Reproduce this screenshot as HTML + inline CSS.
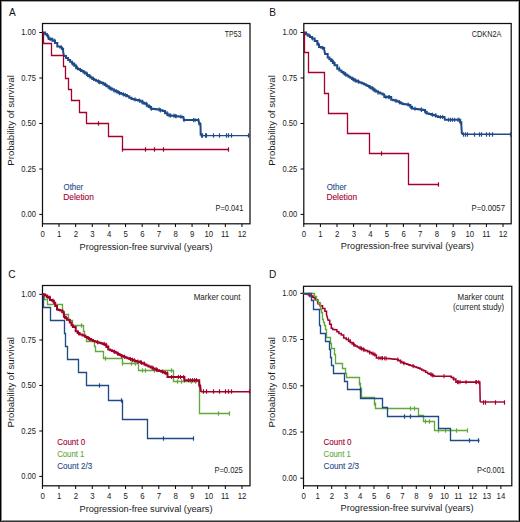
<!DOCTYPE html><html><head><meta charset="utf-8"><style>html,body{margin:0;padding:0;background:#fff;}svg{display:block;font-family:"Liberation Sans", sans-serif;}</style></head><body>
<svg width="520" height="522" viewBox="0 0 520 522">
<rect x="0" y="0" width="520" height="522" fill="#fff"/>
<rect x="42.5" y="23.5" width="207.5" height="200.3" fill="none" stroke="#111" stroke-width="1.25"/>
<line x1="39.3" y1="32.5" x2="42.5" y2="32.5" stroke="#000" stroke-width="1"/>
<text font-size="8.4" fill="#1a1a1a" transform="translate(21.18 35.25) scale(0.900 1)">1.00</text>
<line x1="39.3" y1="78" x2="42.5" y2="78" stroke="#000" stroke-width="1"/>
<text font-size="8.4" fill="#1a1a1a" transform="translate(21.2 80.75) scale(0.900 1)">0.75</text>
<line x1="39.3" y1="123.5" x2="42.5" y2="123.5" stroke="#000" stroke-width="1"/>
<text font-size="8.4" fill="#1a1a1a" transform="translate(21.18 126.25) scale(0.900 1)">0.50</text>
<line x1="39.3" y1="169" x2="42.5" y2="169" stroke="#000" stroke-width="1"/>
<text font-size="8.4" fill="#1a1a1a" transform="translate(21.2 171.75) scale(0.900 1)">0.25</text>
<line x1="39.3" y1="214.4" x2="42.5" y2="214.4" stroke="#000" stroke-width="1"/>
<text font-size="8.4" fill="#1a1a1a" transform="translate(21.18 217.15) scale(0.900 1)">0.00</text>
<line x1="42.4" y1="223.8" x2="42.4" y2="227" stroke="#000" stroke-width="1"/>
<text font-size="8.4" fill="#1a1a1a" transform="translate(40.43 236.8) scale(0.930 1)">0</text>
<line x1="59.03" y1="223.8" x2="59.03" y2="227" stroke="#000" stroke-width="1"/>
<text font-size="8.4" fill="#1a1a1a" transform="translate(56.95 236.8) scale(0.930 1)">1</text>
<line x1="75.66" y1="223.8" x2="75.66" y2="227" stroke="#000" stroke-width="1"/>
<text font-size="8.4" fill="#1a1a1a" transform="translate(73.69 236.8) scale(0.930 1)">2</text>
<line x1="92.29" y1="223.8" x2="92.29" y2="227" stroke="#000" stroke-width="1"/>
<text font-size="8.4" fill="#1a1a1a" transform="translate(90.34 236.8) scale(0.930 1)">3</text>
<line x1="108.92" y1="223.8" x2="108.92" y2="227" stroke="#000" stroke-width="1"/>
<text font-size="8.4" fill="#1a1a1a" transform="translate(106.97 236.8) scale(0.930 1)">4</text>
<line x1="125.55" y1="223.8" x2="125.55" y2="227" stroke="#000" stroke-width="1"/>
<text font-size="8.4" fill="#1a1a1a" transform="translate(123.59 236.8) scale(0.930 1)">5</text>
<line x1="142.18" y1="223.8" x2="142.18" y2="227" stroke="#000" stroke-width="1"/>
<text font-size="8.4" fill="#1a1a1a" transform="translate(140.18 236.8) scale(0.930 1)">6</text>
<line x1="158.81" y1="223.8" x2="158.81" y2="227" stroke="#000" stroke-width="1"/>
<text font-size="8.4" fill="#1a1a1a" transform="translate(156.83 236.8) scale(0.930 1)">7</text>
<line x1="175.44" y1="223.8" x2="175.44" y2="227" stroke="#000" stroke-width="1"/>
<text font-size="8.4" fill="#1a1a1a" transform="translate(173.47 236.8) scale(0.930 1)">8</text>
<line x1="192.07" y1="223.8" x2="192.07" y2="227" stroke="#000" stroke-width="1"/>
<text font-size="8.4" fill="#1a1a1a" transform="translate(190.1 236.8) scale(0.930 1)">9</text>
<line x1="208.7" y1="223.8" x2="208.7" y2="227" stroke="#000" stroke-width="1"/>
<text font-size="8.4" fill="#1a1a1a" transform="translate(204.41 236.8) scale(0.930 1)">10</text>
<line x1="225.33" y1="223.8" x2="225.33" y2="227" stroke="#000" stroke-width="1"/>
<text font-size="8.4" fill="#1a1a1a" transform="translate(221.08 236.8) scale(0.930 1)">11</text>
<line x1="241.96" y1="223.8" x2="241.96" y2="227" stroke="#000" stroke-width="1"/>
<text font-size="8.4" fill="#1a1a1a" transform="translate(237.71 236.8) scale(0.930 1)">12</text>
<text font-size="11.6" fill="#111" transform="translate(8.88 16.1) scale(0.870 1)">A</text>
<text font-size="9.9" fill="#1a1a1a" transform="translate(79.54 249.5) scale(0.931 1)">Progression-free survival (years)</text>
<text font-size="9.5" fill="#1a1a1a" transform="translate(14.1 165.69) rotate(-90) scale(1.009 1)">Probability of survival</text>
<path d="M42.5 32.5 L43.5 32.5 L43.5 32.6 L45.2 32.6 L45.2 34.3 L46.9 34.3 L46.9 35.5 L48.1 35.5 L48.1 37.2 L48.7 37.2 L48.7 39 L51.5 39 L51.5 39.5 L52.7 39.5 L52.7 40.7 L55 40.7 L55 43 L57.3 43 L57.3 46.5 L60.2 46.5 L60.2 47.6 L61.9 47.6 L61.9 48.8 L63.1 48.8 L63.1 51.6 L64 56 L66.05 56 L66.05 58.05 L68.1 58.05 L68.1 60.1 L70.1 60.1 L70.1 61.8 L72.1 61.8 L72.1 63.5 L74.15 63.5 L74.15 65.85 L76.2 65.85 L76.2 68.2 L77.97 68.2 L77.97 69.1 L79.73 69.1 L79.73 70 L81.5 70 L81.5 70.9 L83.3 70.9 L83.3 72.23 L85.1 72.23 L85.1 73.57 L86.9 73.57 L86.9 74.9 L88.7 74.9 L88.7 76.23 L90.5 76.23 L90.5 77.57 L92.3 77.57 L92.3 78.9 L94.1 78.9 L94.1 79.8 L95.9 79.8 L95.9 80.7 L97.7 80.7 L97.7 81.6 L99.47 81.6 L99.47 82.27 L101.23 82.27 L101.23 82.93 L103 82.93 L103 83.6 L104.83 83.6 L104.83 84.97 L106.67 84.97 L106.67 86.33 L108.5 86.33 L108.5 87.7 L110.27 87.7 L110.27 88.6 L112.03 88.6 L112.03 89.5 L113.8 89.5 L113.8 90.4 L115.6 90.4 L115.6 91.3 L117.4 91.3 L117.4 92.2 L119.2 92.2 L119.2 93.1 L121 93.1 L121 93.77 L122.8 93.77 L122.8 94.43 L124.6 94.43 L124.6 95.1 L126.9 95.1 L126.9 96.37 L129.2 96.37 L129.2 97.63 L131.5 97.63 L131.5 98.9 L133.7 98.9 L133.7 99.43 L135.9 99.43 L135.9 99.97 L138.1 99.97 L138.1 100.5 L140.27 100.5 L140.27 101.6 L142.43 101.6 L142.43 102.7 L144.6 102.7 L144.6 103.8 L146.77 103.8 L146.77 105.43 L148.93 105.43 L148.93 107.07 L151.1 107.07 L151.1 108.7 L153.3 108.7 L153.3 108.97 L155.5 108.97 L155.5 109.23 L157.7 109.23 L157.7 109.5 L160.15 109.5 L160.15 110.3 L162.6 110.3 L162.6 111.1 L165.05 111.1 L165.05 113.15 L167.5 113.15 L167.5 115.2 L169.67 115.2 L169.67 115.47 L171.83 115.47 L171.83 115.73 L174 115.73 L174 116 L176.05 116 L176.05 116.22 L178.1 116.22 L178.1 116.45 L180.15 116.45 L180.15 116.68 L182.2 116.68 L182.2 116.9 L183.4 116.9 L183.4 116.9 L183.8 120.1 L185.9 120.1 L185.9 120.1 L188 120.1 L188 120.1 L190.1 120.1 L190.1 120.1 L192.2 120.1 L192.2 120.1 L194.3 120.1 L194.3 120.1 L196.4 120.1 L196.4 120.1 L198.5 120.1 L198.5 120.1 L199.3 124.2 L200.5 124.2 L200.5 124.2 L200.7 135.6" fill="none" stroke="#1f4a87" stroke-width="2.0" stroke-linejoin="miter" />
<line x1="47.46" y1="33.4" x2="47.46" y2="37.6" stroke="#1f4a87" stroke-width="1.0"/>
<line x1="50.08" y1="36.9" x2="50.08" y2="41.1" stroke="#1f4a87" stroke-width="1.0"/>
<line x1="52.18" y1="37.4" x2="52.18" y2="41.6" stroke="#1f4a87" stroke-width="1.0"/>
<line x1="54.79" y1="38.6" x2="54.79" y2="42.8" stroke="#1f4a87" stroke-width="1.0"/>
<line x1="61.52" y1="45.5" x2="61.52" y2="49.7" stroke="#1f4a87" stroke-width="1.0"/>
<line x1="72.39" y1="61.4" x2="72.39" y2="65.6" stroke="#1f4a87" stroke-width="1.0"/>
<line x1="75.9" y1="63.75" x2="75.9" y2="67.95" stroke="#1f4a87" stroke-width="1.0"/>
<line x1="77.42" y1="66.1" x2="77.42" y2="70.3" stroke="#1f4a87" stroke-width="1.0"/>
<line x1="80.47" y1="67.9" x2="80.47" y2="72.1" stroke="#1f4a87" stroke-width="1.0"/>
<line x1="84.11" y1="70.13" x2="84.11" y2="74.33" stroke="#1f4a87" stroke-width="1.0"/>
<line x1="86.79" y1="71.47" x2="86.79" y2="75.67" stroke="#1f4a87" stroke-width="1.0"/>
<line x1="87.48" y1="72.8" x2="87.48" y2="77" stroke="#1f4a87" stroke-width="1.0"/>
<line x1="89.93" y1="74.13" x2="89.93" y2="78.33" stroke="#1f4a87" stroke-width="1.0"/>
<line x1="93.56" y1="76.8" x2="93.56" y2="81" stroke="#1f4a87" stroke-width="1.0"/>
<line x1="98.45" y1="79.5" x2="98.45" y2="83.7" stroke="#1f4a87" stroke-width="1.0"/>
<line x1="99.69" y1="80.17" x2="99.69" y2="84.37" stroke="#1f4a87" stroke-width="1.0"/>
<line x1="103.04" y1="81.5" x2="103.04" y2="85.7" stroke="#1f4a87" stroke-width="1.0"/>
<line x1="105.9" y1="82.87" x2="105.9" y2="87.07" stroke="#1f4a87" stroke-width="1.0"/>
<line x1="109.4" y1="85.6" x2="109.4" y2="89.8" stroke="#1f4a87" stroke-width="1.0"/>
<line x1="110.85" y1="86.5" x2="110.85" y2="90.7" stroke="#1f4a87" stroke-width="1.0"/>
<line x1="114.02" y1="88.3" x2="114.02" y2="92.5" stroke="#1f4a87" stroke-width="1.0"/>
<line x1="116.15" y1="89.2" x2="116.15" y2="93.4" stroke="#1f4a87" stroke-width="1.0"/>
<line x1="118.16" y1="90.1" x2="118.16" y2="94.3" stroke="#1f4a87" stroke-width="1.0"/>
<line x1="119.49" y1="91" x2="119.49" y2="95.2" stroke="#1f4a87" stroke-width="1.0"/>
<line x1="123.4" y1="92.33" x2="123.4" y2="96.53" stroke="#1f4a87" stroke-width="1.0"/>
<line x1="125.29" y1="93" x2="125.29" y2="97.2" stroke="#1f4a87" stroke-width="1.0"/>
<line x1="135.05" y1="97.33" x2="135.05" y2="101.53" stroke="#1f4a87" stroke-width="1.0"/>
<line x1="139.27" y1="98.4" x2="139.27" y2="102.6" stroke="#1f4a87" stroke-width="1.0"/>
<line x1="142.18" y1="99.5" x2="142.18" y2="103.7" stroke="#1f4a87" stroke-width="1.0"/>
<line x1="142.94" y1="100.6" x2="142.94" y2="104.8" stroke="#1f4a87" stroke-width="1.0"/>
<line x1="146.23" y1="101.7" x2="146.23" y2="105.9" stroke="#1f4a87" stroke-width="1.0"/>
<line x1="147.05" y1="103.33" x2="147.05" y2="107.53" stroke="#1f4a87" stroke-width="1.0"/>
<line x1="150.13" y1="104.97" x2="150.13" y2="109.17" stroke="#1f4a87" stroke-width="1.0"/>
<line x1="151.36" y1="106.6" x2="151.36" y2="110.8" stroke="#1f4a87" stroke-width="1.0"/>
<line x1="159.13" y1="107.4" x2="159.13" y2="111.6" stroke="#1f4a87" stroke-width="1.0"/>
<line x1="160.43" y1="108.2" x2="160.43" y2="112.4" stroke="#1f4a87" stroke-width="1.0"/>
<line x1="167.07" y1="111.05" x2="167.07" y2="115.25" stroke="#1f4a87" stroke-width="1.0"/>
<line x1="169.16" y1="113.1" x2="169.16" y2="117.3" stroke="#1f4a87" stroke-width="1.0"/>
<line x1="170.56" y1="113.37" x2="170.56" y2="117.57" stroke="#1f4a87" stroke-width="1.0"/>
<line x1="173.99" y1="113.63" x2="173.99" y2="117.83" stroke="#1f4a87" stroke-width="1.0"/>
<line x1="175.29" y1="113.9" x2="175.29" y2="118.1" stroke="#1f4a87" stroke-width="1.0"/>
<line x1="176.15" y1="114.12" x2="176.15" y2="118.32" stroke="#1f4a87" stroke-width="1.0"/>
<line x1="180.93" y1="114.58" x2="180.93" y2="118.78" stroke="#1f4a87" stroke-width="1.0"/>
<line x1="184.01" y1="118" x2="184.01" y2="122.2" stroke="#1f4a87" stroke-width="1.0"/>
<line x1="193.46" y1="118" x2="193.46" y2="122.2" stroke="#1f4a87" stroke-width="1.0"/>
<line x1="195.07" y1="118" x2="195.07" y2="122.2" stroke="#1f4a87" stroke-width="1.0"/>
<line x1="198.36" y1="118" x2="198.36" y2="122.2" stroke="#1f4a87" stroke-width="1.0"/>
<line x1="200.31" y1="122.1" x2="200.31" y2="126.3" stroke="#1f4a87" stroke-width="1.0"/>
<path d="M200.7 135.6 L249.8 135.6" fill="none" stroke="#1f4a87" stroke-width="1.4" stroke-linejoin="miter" />
<line x1="201.5" y1="133.3" x2="201.5" y2="137.7" stroke="#1f4a87" stroke-width="1.2"/>
<line x1="202.5" y1="133.3" x2="202.5" y2="137.7" stroke="#1f4a87" stroke-width="1.2"/>
<line x1="205.5" y1="133.3" x2="205.5" y2="137.7" stroke="#1f4a87" stroke-width="1.2"/>
<line x1="206.5" y1="133.3" x2="206.5" y2="137.7" stroke="#1f4a87" stroke-width="1.2"/>
<line x1="213.5" y1="133.3" x2="213.5" y2="137.7" stroke="#1f4a87" stroke-width="1.2"/>
<line x1="219.5" y1="133.3" x2="219.5" y2="137.7" stroke="#1f4a87" stroke-width="1.2"/>
<line x1="226.5" y1="133.3" x2="226.5" y2="137.7" stroke="#1f4a87" stroke-width="1.2"/>
<line x1="228.5" y1="133.3" x2="228.5" y2="137.7" stroke="#1f4a87" stroke-width="1.2"/>
<line x1="231.5" y1="133.3" x2="231.5" y2="137.7" stroke="#1f4a87" stroke-width="1.2"/>
<line x1="248.5" y1="133.3" x2="248.5" y2="137.7" stroke="#1f4a87" stroke-width="1.2"/>
<path d="M42.5 32.5 L43.5 32.5 L43.5 43.5 L51.5 43.5 L51.5 55.5 L63.5 55.5 L63.5 66.5 L65.5 66.5 L65.5 78.5 L68.5 78.5 L68.5 89.5 L71.5 89.5 L71.5 100.5 L79.5 100.5 L79.5 112.5 L86.5 112.5 L86.5 123.5 L108.5 123.5 L108.5 136.5 L122.5 136.5 L122.5 149.5 L228.5 149.5" fill="none" stroke="#a3002c" stroke-width="1.3" stroke-linejoin="miter" />
<line x1="98.5" y1="121.3" x2="98.5" y2="125.7" stroke="#a3002c" stroke-width="1.2"/>
<line x1="122.5" y1="147.3" x2="122.5" y2="151.7" stroke="#a3002c" stroke-width="1.2"/>
<line x1="145.5" y1="147.3" x2="145.5" y2="151.7" stroke="#a3002c" stroke-width="1.2"/>
<line x1="154.5" y1="147.3" x2="154.5" y2="151.7" stroke="#a3002c" stroke-width="1.2"/>
<line x1="163.5" y1="147.3" x2="163.5" y2="151.7" stroke="#a3002c" stroke-width="1.2"/>
<line x1="228.5" y1="147.3" x2="228.5" y2="151.7" stroke="#a3002c" stroke-width="1.2"/>
<text font-size="8.4" fill="#1a1a1a" transform="translate(224.84 37.1) scale(0.825 1)">TP53</text>
<text font-size="8.4" fill="#1f4a87" stroke="#1f4a87" stroke-width="0.1" transform="translate(63.53 190) scale(0.938 1)">Other</text>
<text font-size="8.4" fill="#a3002c" stroke="#a3002c" stroke-width="0.1" transform="translate(63.21 200.1) scale(0.997 1)">Deletion</text>
<text font-size="8.4" fill="#1a1a1a" transform="translate(215.59 210.7) scale(0.881 1)">P=0.041</text>
<rect x="303.8" y="23.5" width="207.4" height="200.3" fill="none" stroke="#111" stroke-width="1.25"/>
<line x1="300.6" y1="32.5" x2="303.8" y2="32.5" stroke="#000" stroke-width="1"/>
<text font-size="8.4" fill="#1a1a1a" transform="translate(282.48 35.25) scale(0.900 1)">1.00</text>
<line x1="300.6" y1="78" x2="303.8" y2="78" stroke="#000" stroke-width="1"/>
<text font-size="8.4" fill="#1a1a1a" transform="translate(282.5 80.75) scale(0.900 1)">0.75</text>
<line x1="300.6" y1="123.5" x2="303.8" y2="123.5" stroke="#000" stroke-width="1"/>
<text font-size="8.4" fill="#1a1a1a" transform="translate(282.48 126.25) scale(0.900 1)">0.50</text>
<line x1="300.6" y1="169" x2="303.8" y2="169" stroke="#000" stroke-width="1"/>
<text font-size="8.4" fill="#1a1a1a" transform="translate(282.5 171.75) scale(0.900 1)">0.25</text>
<line x1="300.6" y1="214.4" x2="303.8" y2="214.4" stroke="#000" stroke-width="1"/>
<text font-size="8.4" fill="#1a1a1a" transform="translate(282.48 217.15) scale(0.900 1)">0.00</text>
<line x1="303.8" y1="223.8" x2="303.8" y2="227" stroke="#000" stroke-width="1"/>
<text font-size="8.4" fill="#1a1a1a" transform="translate(301.83 236.8) scale(0.930 1)">0</text>
<line x1="320.4" y1="223.8" x2="320.4" y2="227" stroke="#000" stroke-width="1"/>
<text font-size="8.4" fill="#1a1a1a" transform="translate(318.32 236.8) scale(0.930 1)">1</text>
<line x1="337" y1="223.8" x2="337" y2="227" stroke="#000" stroke-width="1"/>
<text font-size="8.4" fill="#1a1a1a" transform="translate(335.03 236.8) scale(0.930 1)">2</text>
<line x1="353.6" y1="223.8" x2="353.6" y2="227" stroke="#000" stroke-width="1"/>
<text font-size="8.4" fill="#1a1a1a" transform="translate(351.65 236.8) scale(0.930 1)">3</text>
<line x1="370.2" y1="223.8" x2="370.2" y2="227" stroke="#000" stroke-width="1"/>
<text font-size="8.4" fill="#1a1a1a" transform="translate(368.25 236.8) scale(0.930 1)">4</text>
<line x1="386.8" y1="223.8" x2="386.8" y2="227" stroke="#000" stroke-width="1"/>
<text font-size="8.4" fill="#1a1a1a" transform="translate(384.84 236.8) scale(0.930 1)">5</text>
<line x1="403.4" y1="223.8" x2="403.4" y2="227" stroke="#000" stroke-width="1"/>
<text font-size="8.4" fill="#1a1a1a" transform="translate(401.4 236.8) scale(0.930 1)">6</text>
<line x1="420" y1="223.8" x2="420" y2="227" stroke="#000" stroke-width="1"/>
<text font-size="8.4" fill="#1a1a1a" transform="translate(418.02 236.8) scale(0.930 1)">7</text>
<line x1="436.6" y1="223.8" x2="436.6" y2="227" stroke="#000" stroke-width="1"/>
<text font-size="8.4" fill="#1a1a1a" transform="translate(434.63 236.8) scale(0.930 1)">8</text>
<line x1="453.2" y1="223.8" x2="453.2" y2="227" stroke="#000" stroke-width="1"/>
<text font-size="8.4" fill="#1a1a1a" transform="translate(451.23 236.8) scale(0.930 1)">9</text>
<line x1="469.8" y1="223.8" x2="469.8" y2="227" stroke="#000" stroke-width="1"/>
<text font-size="8.4" fill="#1a1a1a" transform="translate(465.51 236.8) scale(0.930 1)">10</text>
<line x1="486.4" y1="223.8" x2="486.4" y2="227" stroke="#000" stroke-width="1"/>
<text font-size="8.4" fill="#1a1a1a" transform="translate(482.15 236.8) scale(0.930 1)">11</text>
<line x1="503" y1="223.8" x2="503" y2="227" stroke="#000" stroke-width="1"/>
<text font-size="8.4" fill="#1a1a1a" transform="translate(498.75 236.8) scale(0.930 1)">12</text>
<text font-size="11.6" fill="#111" transform="translate(269.37 16.3) scale(0.870 1)">B</text>
<text font-size="9.9" fill="#1a1a1a" transform="translate(340.84 249.4) scale(0.931 1)">Progression-free survival (years)</text>
<text font-size="9.5" fill="#1a1a1a" transform="translate(275.3 165.69) rotate(-90) scale(1.009 1)">Probability of survival</text>
<path d="M303.8 32.5 L304.3 32.5 L304.3 32.5 L306.05 32.5 L306.05 34.15 L307.8 34.15 L307.8 35.8 L309.95 35.8 L309.95 37.1 L312.1 37.1 L312.1 38.4 L314.7 38.4 L314.7 41 L317.3 41 L317.3 44.4 L319 44.4 L319 47 L320.75 47 L320.75 47.45 L322.5 47.45 L322.5 47.9 L324.2 47.9 L324.2 49.6 L325.1 54 L327.7 54 L327.7 57.4 L329.4 57.4 L329.4 59.15 L331.1 59.15 L331.1 60.9 L332.85 60.9 L332.85 63.05 L334.6 63.05 L334.6 65.2 L337.2 65.2 L337.2 68.7 L339.35 68.7 L339.35 70.4 L341.5 70.4 L341.5 72.1 L343.23 72.1 L343.23 73.27 L344.97 73.27 L344.97 74.43 L346.7 74.43 L346.7 75.6 L348.43 75.6 L348.43 76.73 L350.17 76.73 L350.17 77.87 L351.9 77.87 L351.9 79 L353.63 79 L353.63 79.87 L355.37 79.87 L355.37 80.73 L357.1 80.73 L357.1 81.6 L358.83 81.6 L358.83 82.2 L360.57 82.2 L360.57 82.8 L362.3 82.8 L362.3 83.4 L364.03 83.4 L364.03 84.27 L365.77 84.27 L365.77 85.13 L367.5 85.13 L367.5 86 L369.23 86 L369.23 87.13 L370.97 87.13 L370.97 88.27 L372.7 88.27 L372.7 89.4 L374.43 89.4 L374.43 90.47 L376.17 90.47 L376.17 91.53 L377.9 91.53 L377.9 92.6 L380.25 92.6 L380.25 93.55 L382.6 93.55 L382.6 94.5 L384.3 94.5 L384.3 97.1 L386.5 97.1 L386.5 97.1 L388.7 97.1 L388.7 97.1 L391.2 97.1 L391.2 99.7 L393.23 99.7 L393.23 100.27 L395.27 100.27 L395.27 100.83 L397.3 100.83 L397.3 101.4 L399.03 101.4 L399.03 102.27 L400.77 102.27 L400.77 103.13 L402.5 103.13 L402.5 104 L404.5 104 L404.5 104.3 L406.5 104.3 L406.5 104.6 L408.5 104.6 L408.5 104.9 L410.25 104.9 L410.25 106.65 L412 106.65 L412 108.4 L413.88 108.4 L413.88 108.68 L415.77 108.68 L415.77 108.97 L417.65 108.97 L417.65 109.25 L419.53 109.25 L419.53 109.53 L421.42 109.53 L421.42 109.82 L423.3 109.82 L423.3 110.1 L425 110.1 L425 111.8 L426.7 111.8 L426.7 113.5 L429 113.5 L429 114.1 L431.3 114.1 L431.3 114.7 L433.6 114.7 L433.6 115.3 L435.8 115.3 L435.8 116.15 L438 116.15 L438 117 L440.17 117 L440.17 117 L442.33 117 L442.33 117 L444.5 117 L444.5 117 L444.9 119.8 L446.9 119.8 L446.9 119.8 L448.9 119.8 L448.9 119.8 L450.9 119.8 L450.9 119.8 L452.9 119.8 L452.9 119.8 L454.9 119.8 L454.9 119.8 L456.9 119.8 L456.9 119.8 L458.9 119.8 L458.9 119.8 L460.2 119.8 L460.2 122.2 L461.3 122.2 L461.3 124.5 L461.9 134.3" fill="none" stroke="#1f4a87" stroke-width="2.0" stroke-linejoin="miter" />
<line x1="309.73" y1="33.7" x2="309.73" y2="37.9" stroke="#1f4a87" stroke-width="1.0"/>
<line x1="312.43" y1="36.3" x2="312.43" y2="40.5" stroke="#1f4a87" stroke-width="1.0"/>
<line x1="318.57" y1="42.3" x2="318.57" y2="46.5" stroke="#1f4a87" stroke-width="1.0"/>
<line x1="322.76" y1="45.8" x2="322.76" y2="50" stroke="#1f4a87" stroke-width="1.0"/>
<line x1="332.67" y1="58.8" x2="332.67" y2="63" stroke="#1f4a87" stroke-width="1.0"/>
<line x1="334.14" y1="60.95" x2="334.14" y2="65.15" stroke="#1f4a87" stroke-width="1.0"/>
<line x1="339.3" y1="66.6" x2="339.3" y2="70.8" stroke="#1f4a87" stroke-width="1.0"/>
<line x1="344.03" y1="71.17" x2="344.03" y2="75.37" stroke="#1f4a87" stroke-width="1.0"/>
<line x1="345.78" y1="72.33" x2="345.78" y2="76.53" stroke="#1f4a87" stroke-width="1.0"/>
<line x1="353" y1="76.9" x2="353" y2="81.1" stroke="#1f4a87" stroke-width="1.0"/>
<line x1="354.03" y1="77.77" x2="354.03" y2="81.97" stroke="#1f4a87" stroke-width="1.0"/>
<line x1="355.75" y1="78.63" x2="355.75" y2="82.83" stroke="#1f4a87" stroke-width="1.0"/>
<line x1="358.45" y1="79.5" x2="358.45" y2="83.7" stroke="#1f4a87" stroke-width="1.0"/>
<line x1="370.07" y1="85.03" x2="370.07" y2="89.23" stroke="#1f4a87" stroke-width="1.0"/>
<line x1="372.65" y1="86.17" x2="372.65" y2="90.37" stroke="#1f4a87" stroke-width="1.0"/>
<line x1="373.95" y1="87.3" x2="373.95" y2="91.5" stroke="#1f4a87" stroke-width="1.0"/>
<line x1="374.97" y1="88.37" x2="374.97" y2="92.57" stroke="#1f4a87" stroke-width="1.0"/>
<line x1="378.05" y1="90.5" x2="378.05" y2="94.7" stroke="#1f4a87" stroke-width="1.0"/>
<line x1="386.01" y1="95" x2="386.01" y2="99.2" stroke="#1f4a87" stroke-width="1.0"/>
<line x1="388.27" y1="95" x2="388.27" y2="99.2" stroke="#1f4a87" stroke-width="1.0"/>
<line x1="389.64" y1="95" x2="389.64" y2="99.2" stroke="#1f4a87" stroke-width="1.0"/>
<line x1="395.97" y1="98.73" x2="395.97" y2="102.93" stroke="#1f4a87" stroke-width="1.0"/>
<line x1="399.62" y1="100.17" x2="399.62" y2="104.37" stroke="#1f4a87" stroke-width="1.0"/>
<line x1="408.14" y1="102.5" x2="408.14" y2="106.7" stroke="#1f4a87" stroke-width="1.0"/>
<line x1="410.6" y1="104.55" x2="410.6" y2="108.75" stroke="#1f4a87" stroke-width="1.0"/>
<line x1="415.01" y1="106.58" x2="415.01" y2="110.78" stroke="#1f4a87" stroke-width="1.0"/>
<line x1="421.18" y1="107.43" x2="421.18" y2="111.63" stroke="#1f4a87" stroke-width="1.0"/>
<line x1="421.6" y1="107.72" x2="421.6" y2="111.92" stroke="#1f4a87" stroke-width="1.0"/>
<line x1="425.29" y1="109.7" x2="425.29" y2="113.9" stroke="#1f4a87" stroke-width="1.0"/>
<line x1="432.34" y1="112.6" x2="432.34" y2="116.8" stroke="#1f4a87" stroke-width="1.0"/>
<line x1="435.77" y1="113.2" x2="435.77" y2="117.4" stroke="#1f4a87" stroke-width="1.0"/>
<line x1="440.31" y1="114.9" x2="440.31" y2="119.1" stroke="#1f4a87" stroke-width="1.0"/>
<line x1="442.61" y1="114.9" x2="442.61" y2="119.1" stroke="#1f4a87" stroke-width="1.0"/>
<line x1="448.4" y1="117.7" x2="448.4" y2="121.9" stroke="#1f4a87" stroke-width="1.0"/>
<line x1="450.42" y1="117.7" x2="450.42" y2="121.9" stroke="#1f4a87" stroke-width="1.0"/>
<line x1="452.38" y1="117.7" x2="452.38" y2="121.9" stroke="#1f4a87" stroke-width="1.0"/>
<line x1="454.64" y1="117.7" x2="454.64" y2="121.9" stroke="#1f4a87" stroke-width="1.0"/>
<line x1="457.98" y1="117.7" x2="457.98" y2="121.9" stroke="#1f4a87" stroke-width="1.0"/>
<line x1="459.02" y1="117.7" x2="459.02" y2="121.9" stroke="#1f4a87" stroke-width="1.0"/>
<line x1="460.29" y1="120.1" x2="460.29" y2="124.3" stroke="#1f4a87" stroke-width="1.0"/>
<path d="M461.9 134.3 L511.2 134.3" fill="none" stroke="#1f4a87" stroke-width="1.4" stroke-linejoin="miter" />
<line x1="463.5" y1="132.3" x2="463.5" y2="136.7" stroke="#1f4a87" stroke-width="1.2"/>
<line x1="465.5" y1="132.3" x2="465.5" y2="136.7" stroke="#1f4a87" stroke-width="1.2"/>
<line x1="467.5" y1="132.3" x2="467.5" y2="136.7" stroke="#1f4a87" stroke-width="1.2"/>
<line x1="474.5" y1="132.3" x2="474.5" y2="136.7" stroke="#1f4a87" stroke-width="1.2"/>
<line x1="479.5" y1="132.3" x2="479.5" y2="136.7" stroke="#1f4a87" stroke-width="1.2"/>
<line x1="481.5" y1="132.3" x2="481.5" y2="136.7" stroke="#1f4a87" stroke-width="1.2"/>
<line x1="486.5" y1="132.3" x2="486.5" y2="136.7" stroke="#1f4a87" stroke-width="1.2"/>
<line x1="489.5" y1="132.3" x2="489.5" y2="136.7" stroke="#1f4a87" stroke-width="1.2"/>
<line x1="492.5" y1="132.3" x2="492.5" y2="136.7" stroke="#1f4a87" stroke-width="1.2"/>
<line x1="510.5" y1="132.3" x2="510.5" y2="136.7" stroke="#1f4a87" stroke-width="1.2"/>
<path d="M303.5 32.5 L304.5 32.5 L304.5 52.5 L308.5 52.5 L308.5 72.5 L324.5 72.5 L324.5 93.5 L328.5 93.5 L328.5 113.5 L347.5 113.5 L347.5 133.5 L369.5 133.5 L369.5 153.5 L408.5 153.5 L408.5 184.5 L438.5 184.5" fill="none" stroke="#a3002c" stroke-width="1.3" stroke-linejoin="miter" />
<line x1="381.5" y1="151.3" x2="381.5" y2="155.7" stroke="#a3002c" stroke-width="1.2"/>
<line x1="438.5" y1="182.3" x2="438.5" y2="186.7" stroke="#a3002c" stroke-width="1.2"/>
<text font-size="8.4" fill="#1a1a1a" transform="translate(471.83 37.2) scale(0.868 1)">CDKN2A</text>
<text font-size="8.4" fill="#1f4a87" stroke="#1f4a87" stroke-width="0.1" transform="translate(326.73 190) scale(0.938 1)">Other</text>
<text font-size="8.4" fill="#a3002c" stroke="#a3002c" stroke-width="0.1" transform="translate(326.41 200.1) scale(0.997 1)">Deletion</text>
<text font-size="8.4" fill="#1a1a1a" transform="translate(471.56 210.5) scale(0.923 1)">P=0.0057</text>
<rect x="42.5" y="285.5" width="207.5" height="200.3" fill="none" stroke="#111" stroke-width="1.25"/>
<line x1="39.3" y1="294.3" x2="42.5" y2="294.3" stroke="#000" stroke-width="1"/>
<text font-size="8.4" fill="#1a1a1a" transform="translate(21.18 297.05) scale(0.900 1)">1.00</text>
<line x1="39.3" y1="340" x2="42.5" y2="340" stroke="#000" stroke-width="1"/>
<text font-size="8.4" fill="#1a1a1a" transform="translate(21.2 342.75) scale(0.900 1)">0.75</text>
<line x1="39.3" y1="385.5" x2="42.5" y2="385.5" stroke="#000" stroke-width="1"/>
<text font-size="8.4" fill="#1a1a1a" transform="translate(21.18 388.25) scale(0.900 1)">0.50</text>
<line x1="39.3" y1="431" x2="42.5" y2="431" stroke="#000" stroke-width="1"/>
<text font-size="8.4" fill="#1a1a1a" transform="translate(21.2 433.75) scale(0.900 1)">0.25</text>
<line x1="39.3" y1="476.4" x2="42.5" y2="476.4" stroke="#000" stroke-width="1"/>
<text font-size="8.4" fill="#1a1a1a" transform="translate(21.18 479.15) scale(0.900 1)">0.00</text>
<line x1="42.4" y1="485.8" x2="42.4" y2="489" stroke="#000" stroke-width="1"/>
<text font-size="8.4" fill="#1a1a1a" transform="translate(40.43 498.8) scale(0.930 1)">0</text>
<line x1="59.03" y1="485.8" x2="59.03" y2="489" stroke="#000" stroke-width="1"/>
<text font-size="8.4" fill="#1a1a1a" transform="translate(56.95 498.8) scale(0.930 1)">1</text>
<line x1="75.66" y1="485.8" x2="75.66" y2="489" stroke="#000" stroke-width="1"/>
<text font-size="8.4" fill="#1a1a1a" transform="translate(73.69 498.8) scale(0.930 1)">2</text>
<line x1="92.29" y1="485.8" x2="92.29" y2="489" stroke="#000" stroke-width="1"/>
<text font-size="8.4" fill="#1a1a1a" transform="translate(90.34 498.8) scale(0.930 1)">3</text>
<line x1="108.92" y1="485.8" x2="108.92" y2="489" stroke="#000" stroke-width="1"/>
<text font-size="8.4" fill="#1a1a1a" transform="translate(106.97 498.8) scale(0.930 1)">4</text>
<line x1="125.55" y1="485.8" x2="125.55" y2="489" stroke="#000" stroke-width="1"/>
<text font-size="8.4" fill="#1a1a1a" transform="translate(123.59 498.8) scale(0.930 1)">5</text>
<line x1="142.18" y1="485.8" x2="142.18" y2="489" stroke="#000" stroke-width="1"/>
<text font-size="8.4" fill="#1a1a1a" transform="translate(140.18 498.8) scale(0.930 1)">6</text>
<line x1="158.81" y1="485.8" x2="158.81" y2="489" stroke="#000" stroke-width="1"/>
<text font-size="8.4" fill="#1a1a1a" transform="translate(156.83 498.8) scale(0.930 1)">7</text>
<line x1="175.44" y1="485.8" x2="175.44" y2="489" stroke="#000" stroke-width="1"/>
<text font-size="8.4" fill="#1a1a1a" transform="translate(173.47 498.8) scale(0.930 1)">8</text>
<line x1="192.07" y1="485.8" x2="192.07" y2="489" stroke="#000" stroke-width="1"/>
<text font-size="8.4" fill="#1a1a1a" transform="translate(190.1 498.8) scale(0.930 1)">9</text>
<line x1="208.7" y1="485.8" x2="208.7" y2="489" stroke="#000" stroke-width="1"/>
<text font-size="8.4" fill="#1a1a1a" transform="translate(204.41 498.8) scale(0.930 1)">10</text>
<line x1="225.33" y1="485.8" x2="225.33" y2="489" stroke="#000" stroke-width="1"/>
<text font-size="8.4" fill="#1a1a1a" transform="translate(221.08 498.8) scale(0.930 1)">11</text>
<line x1="241.96" y1="485.8" x2="241.96" y2="489" stroke="#000" stroke-width="1"/>
<text font-size="8.4" fill="#1a1a1a" transform="translate(237.71 498.8) scale(0.930 1)">12</text>
<text font-size="11.6" fill="#111" transform="translate(8.29 278.1) scale(0.870 1)">C</text>
<text font-size="9.9" fill="#1a1a1a" transform="translate(79.54 511.5) scale(0.931 1)">Progression-free survival (years)</text>
<text font-size="9.5" fill="#1a1a1a" transform="translate(14.1 427.49) rotate(-90) scale(1.009 1)">Probability of survival</text>
<path d="M42.5 294.5 L44.5 294.5 L44.5 299.5 L47.5 299.5 L47.5 304.5 L62.5 304.5 L62.5 310.5 L63.5 310.5 L63.5 314.5 L68.5 314.5 L68.5 320.5 L72.5 320.5 L72.5 325.5 L83.5 325.5 L83.5 331.5 L84.5 331.5 L84.5 336.5 L86.5 336.5 L86.5 341.5 L94.5 341.5 L94.5 346.5 L95.5 346.5 L95.5 351.5 L103.5 351.5 L103.5 358.5 L122.5 358.5 L122.5 363.5 L138.5 363.5 L138.5 370.5 L173.5 370.5 L173.5 381.5 L199.5 381.5 L199.5 413.5 L229.5 413.5" fill="none" stroke="#62a83a" stroke-width="1.35" stroke-linejoin="miter" />
<line x1="81.5" y1="323.3" x2="81.5" y2="327.7" stroke="#62a83a" stroke-width="1.2"/>
<line x1="105.5" y1="356.3" x2="105.5" y2="360.7" stroke="#62a83a" stroke-width="1.2"/>
<line x1="122.5" y1="361.3" x2="122.5" y2="365.7" stroke="#62a83a" stroke-width="1.2"/>
<line x1="131.5" y1="361.3" x2="131.5" y2="365.7" stroke="#62a83a" stroke-width="1.2"/>
<line x1="135.5" y1="361.3" x2="135.5" y2="365.7" stroke="#62a83a" stroke-width="1.2"/>
<line x1="142.5" y1="368.3" x2="142.5" y2="372.7" stroke="#62a83a" stroke-width="1.2"/>
<line x1="145.5" y1="368.3" x2="145.5" y2="372.7" stroke="#62a83a" stroke-width="1.2"/>
<line x1="154.5" y1="368.3" x2="154.5" y2="372.7" stroke="#62a83a" stroke-width="1.2"/>
<line x1="171.5" y1="368.3" x2="171.5" y2="372.7" stroke="#62a83a" stroke-width="1.2"/>
<line x1="177.5" y1="379.3" x2="177.5" y2="383.7" stroke="#62a83a" stroke-width="1.2"/>
<line x1="181.5" y1="379.3" x2="181.5" y2="383.7" stroke="#62a83a" stroke-width="1.2"/>
<line x1="191.5" y1="379.3" x2="191.5" y2="383.7" stroke="#62a83a" stroke-width="1.2"/>
<line x1="195.5" y1="379.3" x2="195.5" y2="383.7" stroke="#62a83a" stroke-width="1.2"/>
<line x1="218.5" y1="411.3" x2="218.5" y2="415.7" stroke="#62a83a" stroke-width="1.2"/>
<line x1="229.5" y1="411.3" x2="229.5" y2="415.7" stroke="#62a83a" stroke-width="1.2"/>
<path d="M42.5 294.5 L43.5 294.5 L43.5 307.5 L50.5 307.5 L50.5 320.5 L64.5 320.5 L64.5 333.5 L65.5 333.5 L65.5 346.5 L67.5 346.5 L67.5 359.5 L78.5 359.5 L78.5 372.5 L86.5 372.5 L86.5 385.5 L108.5 385.5 L108.5 400.5 L122.5 400.5 L122.5 419.5 L147.5 419.5 L147.5 438.5 L193.5 438.5" fill="none" stroke="#1f4a87" stroke-width="1.35" stroke-linejoin="miter" />
<line x1="99.5" y1="383.3" x2="99.5" y2="387.7" stroke="#1f4a87" stroke-width="1.2"/>
<line x1="121.5" y1="398.3" x2="121.5" y2="402.7" stroke="#1f4a87" stroke-width="1.2"/>
<line x1="163.5" y1="436.3" x2="163.5" y2="440.7" stroke="#1f4a87" stroke-width="1.2"/>
<line x1="193.5" y1="436.3" x2="193.5" y2="440.7" stroke="#1f4a87" stroke-width="1.2"/>
<path d="M42.5 294.3 L43.8 294.3 L43.8 294.5 L45.2 294.5 L45.2 295.5 L46.9 295.5 L46.9 296.9 L48.7 296.9 L48.7 297.6 L50 297.6 L50 300 L52.1 300 L52.1 300.7 L53.9 300.7 L53.9 302.8 L55.2 302.8 L55.2 305.9 L57 305.9 L57 309.4 L58.55 309.4 L58.55 309.9 L60.1 309.9 L60.1 310.4 L62.2 310.4 L62.2 312.2 L63.9 312.2 L63.9 316.7 L65.45 316.7 L65.45 318.25 L67 318.25 L67 319.8 L69.8 319.8 L69.8 322.5 L71.5 322.5 L71.5 325.3 L72.9 325.3 L72.9 327 L75.7 327 L75.7 331.3 L77.65 331.3 L77.65 332.95 L79.6 332.95 L79.6 334.6 L82.5 334.6 L82.5 335.6 L85.3 335.6 L85.3 337 L87.25 337 L87.25 338 L89.2 338 L89.2 339 L91.1 339 L91.1 339.95 L93 339.95 L93 340.9 L94.9 340.9 L94.9 341.6 L96.8 341.6 L96.8 342.3 L98.75 342.3 L98.75 342.8 L100.7 342.8 L100.7 343.3 L102.6 343.3 L102.6 344 L104.5 344 L104.5 344.7 L106.4 344.7 L106.4 347.1 L108.3 347.1 L108.3 349.5 L110.13 349.5 L110.13 350.27 L111.97 350.27 L111.97 351.03 L113.8 351.03 L113.8 351.8 L115.72 351.8 L115.72 352.85 L117.65 352.85 L117.65 353.9 L119.58 353.9 L119.58 354.95 L121.5 354.95 L121.5 356 L123.44 356 L123.44 356.76 L125.38 356.76 L125.38 357.52 L127.32 357.52 L127.32 358.28 L129.26 358.28 L129.26 359.04 L131.2 359.04 L131.2 359.8 L133.12 359.8 L133.12 360.38 L135.04 360.38 L135.04 360.96 L136.96 360.96 L136.96 361.54 L138.88 361.54 L138.88 362.12 L140.8 362.12 L140.8 362.7 L142.63 362.7 L142.63 363.6 L144.47 363.6 L144.47 364.5 L146.3 364.5 L146.3 365.4 L148.43 365.4 L148.43 366.47 L150.57 366.47 L150.57 367.53 L152.7 367.53 L152.7 368.6 L154.82 368.6 L154.82 369.38 L156.95 369.38 L156.95 370.15 L159.07 370.15 L159.07 370.93 L161.2 370.93 L161.2 371.7 L162.97 371.7 L162.97 372.3 L164.73 372.3 L164.73 372.9 L166.5 372.9 L166.5 373.5 L167.5 373.5 L167.5 377 L169.61 377 L169.61 377 L171.73 377 L171.73 377 L173.84 377 L173.84 377 L175.96 377 L175.96 377 L178.07 377 L178.07 377 L180.19 377 L180.19 377 L182.3 377 L182.3 377 L184.4 377 L184.4 380.2 L186.52 380.2 L186.52 380.2 L188.63 380.2 L188.63 380.2 L190.75 380.2 L190.75 380.2 L192.87 380.2 L192.87 380.2 L194.98 380.2 L194.98 380.2 L197.1 380.2 L197.1 380.2 L199.2 380.2 L199.2 385.5 L200.2 385.5 L200.2 385.5 L200.9 391.8" fill="none" stroke="#a3002c" stroke-width="2.0" stroke-linejoin="miter" />
<line x1="47.91" y1="294.8" x2="47.91" y2="299" stroke="#a3002c" stroke-width="1.0"/>
<line x1="49.99" y1="295.5" x2="49.99" y2="299.7" stroke="#a3002c" stroke-width="1.0"/>
<line x1="53.05" y1="298.6" x2="53.05" y2="302.8" stroke="#a3002c" stroke-width="1.0"/>
<line x1="64.58" y1="314.6" x2="64.58" y2="318.8" stroke="#a3002c" stroke-width="1.0"/>
<line x1="66.57" y1="316.15" x2="66.57" y2="320.35" stroke="#a3002c" stroke-width="1.0"/>
<line x1="78.41" y1="330.85" x2="78.41" y2="335.05" stroke="#a3002c" stroke-width="1.0"/>
<line x1="88.16" y1="335.9" x2="88.16" y2="340.1" stroke="#a3002c" stroke-width="1.0"/>
<line x1="89.31" y1="336.9" x2="89.31" y2="341.1" stroke="#a3002c" stroke-width="1.0"/>
<line x1="97.66" y1="340.2" x2="97.66" y2="344.4" stroke="#a3002c" stroke-width="1.0"/>
<line x1="104.27" y1="341.9" x2="104.27" y2="346.1" stroke="#a3002c" stroke-width="1.0"/>
<line x1="106.26" y1="342.6" x2="106.26" y2="346.8" stroke="#a3002c" stroke-width="1.0"/>
<line x1="108.16" y1="345" x2="108.16" y2="349.2" stroke="#a3002c" stroke-width="1.0"/>
<line x1="114.35" y1="349.7" x2="114.35" y2="353.9" stroke="#a3002c" stroke-width="1.0"/>
<line x1="117.88" y1="351.8" x2="117.88" y2="356" stroke="#a3002c" stroke-width="1.0"/>
<line x1="121.59" y1="353.9" x2="121.59" y2="358.1" stroke="#a3002c" stroke-width="1.0"/>
<line x1="124.43" y1="354.66" x2="124.43" y2="358.86" stroke="#a3002c" stroke-width="1.0"/>
<line x1="130.36" y1="356.94" x2="130.36" y2="361.14" stroke="#a3002c" stroke-width="1.0"/>
<line x1="132.47" y1="357.7" x2="132.47" y2="361.9" stroke="#a3002c" stroke-width="1.0"/>
<line x1="134.43" y1="358.28" x2="134.43" y2="362.48" stroke="#a3002c" stroke-width="1.0"/>
<line x1="137.82" y1="359.44" x2="137.82" y2="363.64" stroke="#a3002c" stroke-width="1.0"/>
<line x1="140.77" y1="360.02" x2="140.77" y2="364.22" stroke="#a3002c" stroke-width="1.0"/>
<line x1="141.49" y1="360.6" x2="141.49" y2="364.8" stroke="#a3002c" stroke-width="1.0"/>
<line x1="144.35" y1="361.5" x2="144.35" y2="365.7" stroke="#a3002c" stroke-width="1.0"/>
<line x1="152.13" y1="365.43" x2="152.13" y2="369.63" stroke="#a3002c" stroke-width="1.0"/>
<line x1="153.17" y1="366.5" x2="153.17" y2="370.7" stroke="#a3002c" stroke-width="1.0"/>
<line x1="156.67" y1="367.27" x2="156.67" y2="371.48" stroke="#a3002c" stroke-width="1.0"/>
<line x1="157.14" y1="368.05" x2="157.14" y2="372.25" stroke="#a3002c" stroke-width="1.0"/>
<line x1="162.7" y1="369.6" x2="162.7" y2="373.8" stroke="#a3002c" stroke-width="1.0"/>
<line x1="165.26" y1="370.8" x2="165.26" y2="375" stroke="#a3002c" stroke-width="1.0"/>
<line x1="167.44" y1="371.4" x2="167.44" y2="375.6" stroke="#a3002c" stroke-width="1.0"/>
<line x1="171.58" y1="374.9" x2="171.58" y2="379.1" stroke="#a3002c" stroke-width="1.0"/>
<line x1="178.38" y1="374.9" x2="178.38" y2="379.1" stroke="#a3002c" stroke-width="1.0"/>
<line x1="180.48" y1="374.9" x2="180.48" y2="379.1" stroke="#a3002c" stroke-width="1.0"/>
<line x1="183.69" y1="374.9" x2="183.69" y2="379.1" stroke="#a3002c" stroke-width="1.0"/>
<line x1="184.56" y1="378.1" x2="184.56" y2="382.3" stroke="#a3002c" stroke-width="1.0"/>
<line x1="188.36" y1="378.1" x2="188.36" y2="382.3" stroke="#a3002c" stroke-width="1.0"/>
<line x1="190.25" y1="378.1" x2="190.25" y2="382.3" stroke="#a3002c" stroke-width="1.0"/>
<line x1="192.52" y1="378.1" x2="192.52" y2="382.3" stroke="#a3002c" stroke-width="1.0"/>
<line x1="194.56" y1="378.1" x2="194.56" y2="382.3" stroke="#a3002c" stroke-width="1.0"/>
<line x1="196.45" y1="378.1" x2="196.45" y2="382.3" stroke="#a3002c" stroke-width="1.0"/>
<line x1="199.7" y1="383.4" x2="199.7" y2="387.6" stroke="#a3002c" stroke-width="1.0"/>
<path d="M200.9 391.8 L249.8 391.8" fill="none" stroke="#a3002c" stroke-width="1.4" stroke-linejoin="miter" />
<line x1="203.5" y1="389.3" x2="203.5" y2="393.7" stroke="#a3002c" stroke-width="1.2"/>
<line x1="206.5" y1="389.3" x2="206.5" y2="393.7" stroke="#a3002c" stroke-width="1.2"/>
<line x1="213.5" y1="389.3" x2="213.5" y2="393.7" stroke="#a3002c" stroke-width="1.2"/>
<line x1="219.5" y1="389.3" x2="219.5" y2="393.7" stroke="#a3002c" stroke-width="1.2"/>
<line x1="225.5" y1="389.3" x2="225.5" y2="393.7" stroke="#a3002c" stroke-width="1.2"/>
<line x1="228.5" y1="389.3" x2="228.5" y2="393.7" stroke="#a3002c" stroke-width="1.2"/>
<line x1="231.5" y1="389.3" x2="231.5" y2="393.7" stroke="#a3002c" stroke-width="1.2"/>
<line x1="249.5" y1="389.3" x2="249.5" y2="393.7" stroke="#a3002c" stroke-width="1.2"/>
<text font-size="8.3" fill="#1a1a1a" transform="translate(193.64 299.8) scale(0.967 1)">Marker count</text>
<text font-size="8.4" fill="#a3002c" stroke="#a3002c" stroke-width="0.1" transform="translate(57.19 444.6) scale(0.952 1)">Count 0</text>
<text font-size="8.4" fill="#62a83a" stroke="#62a83a" stroke-width="0.1" transform="translate(57.21 456.9) scale(0.924 1)">Count 1</text>
<text font-size="8.4" fill="#1f4a87" stroke="#1f4a87" stroke-width="0.1" transform="translate(57.19 469.2) scale(0.968 1)">Count 2/3</text>
<text font-size="8.4" fill="#1a1a1a" transform="translate(214.38 472.5) scale(0.902 1)">P=0.025</text>
<rect x="303.5" y="286.3" width="208.3" height="199.5" fill="none" stroke="#111" stroke-width="1.25"/>
<line x1="300.3" y1="293.3" x2="303.5" y2="293.3" stroke="#000" stroke-width="1"/>
<text font-size="8.4" fill="#1a1a1a" transform="translate(282.18 296.05) scale(0.900 1)">1.00</text>
<line x1="300.3" y1="339.5" x2="303.5" y2="339.5" stroke="#000" stroke-width="1"/>
<text font-size="8.4" fill="#1a1a1a" transform="translate(282.2 342.25) scale(0.900 1)">0.75</text>
<line x1="300.3" y1="385.8" x2="303.5" y2="385.8" stroke="#000" stroke-width="1"/>
<text font-size="8.4" fill="#1a1a1a" transform="translate(282.18 388.55) scale(0.900 1)">0.50</text>
<line x1="300.3" y1="432" x2="303.5" y2="432" stroke="#000" stroke-width="1"/>
<text font-size="8.4" fill="#1a1a1a" transform="translate(282.2 434.75) scale(0.900 1)">0.25</text>
<line x1="300.3" y1="478.2" x2="303.5" y2="478.2" stroke="#000" stroke-width="1"/>
<text font-size="8.4" fill="#1a1a1a" transform="translate(282.18 480.95) scale(0.900 1)">0.00</text>
<line x1="303.5" y1="485.8" x2="303.5" y2="489" stroke="#000" stroke-width="1"/>
<text font-size="8.4" fill="#1a1a1a" transform="translate(301.53 498.8) scale(0.930 1)">0</text>
<line x1="317.6" y1="485.8" x2="317.6" y2="489" stroke="#000" stroke-width="1"/>
<text font-size="8.4" fill="#1a1a1a" transform="translate(315.52 498.8) scale(0.930 1)">1</text>
<line x1="331.7" y1="485.8" x2="331.7" y2="489" stroke="#000" stroke-width="1"/>
<text font-size="8.4" fill="#1a1a1a" transform="translate(329.73 498.8) scale(0.930 1)">2</text>
<line x1="345.8" y1="485.8" x2="345.8" y2="489" stroke="#000" stroke-width="1"/>
<text font-size="8.4" fill="#1a1a1a" transform="translate(343.85 498.8) scale(0.930 1)">3</text>
<line x1="359.9" y1="485.8" x2="359.9" y2="489" stroke="#000" stroke-width="1"/>
<text font-size="8.4" fill="#1a1a1a" transform="translate(357.95 498.8) scale(0.930 1)">4</text>
<line x1="374" y1="485.8" x2="374" y2="489" stroke="#000" stroke-width="1"/>
<text font-size="8.4" fill="#1a1a1a" transform="translate(372.04 498.8) scale(0.930 1)">5</text>
<line x1="388.1" y1="485.8" x2="388.1" y2="489" stroke="#000" stroke-width="1"/>
<text font-size="8.4" fill="#1a1a1a" transform="translate(386.1 498.8) scale(0.930 1)">6</text>
<line x1="402.2" y1="485.8" x2="402.2" y2="489" stroke="#000" stroke-width="1"/>
<text font-size="8.4" fill="#1a1a1a" transform="translate(400.22 498.8) scale(0.930 1)">7</text>
<line x1="416.3" y1="485.8" x2="416.3" y2="489" stroke="#000" stroke-width="1"/>
<text font-size="8.4" fill="#1a1a1a" transform="translate(414.33 498.8) scale(0.930 1)">8</text>
<line x1="430.4" y1="485.8" x2="430.4" y2="489" stroke="#000" stroke-width="1"/>
<text font-size="8.4" fill="#1a1a1a" transform="translate(428.43 498.8) scale(0.930 1)">9</text>
<line x1="444.5" y1="485.8" x2="444.5" y2="489" stroke="#000" stroke-width="1"/>
<text font-size="8.4" fill="#1a1a1a" transform="translate(440.21 498.8) scale(0.930 1)">10</text>
<line x1="458.6" y1="485.8" x2="458.6" y2="489" stroke="#000" stroke-width="1"/>
<text font-size="8.4" fill="#1a1a1a" transform="translate(454.35 498.8) scale(0.930 1)">11</text>
<line x1="472.7" y1="485.8" x2="472.7" y2="489" stroke="#000" stroke-width="1"/>
<text font-size="8.4" fill="#1a1a1a" transform="translate(468.45 498.8) scale(0.930 1)">12</text>
<line x1="486.8" y1="485.8" x2="486.8" y2="489" stroke="#000" stroke-width="1"/>
<text font-size="8.4" fill="#1a1a1a" transform="translate(482.53 498.8) scale(0.930 1)">13</text>
<line x1="500.9" y1="485.8" x2="500.9" y2="489" stroke="#000" stroke-width="1"/>
<text font-size="8.4" fill="#1a1a1a" transform="translate(496.57 498.8) scale(0.930 1)">14</text>
<text font-size="11.6" fill="#111" transform="translate(269.07 277.9) scale(0.870 1)">D</text>
<text font-size="9.9" fill="#1a1a1a" transform="translate(340.54 511.3) scale(0.931 1)">Progression-free survival (years)</text>
<text font-size="9.5" fill="#1a1a1a" transform="translate(275.3 427.49) rotate(-90) scale(1.009 1)">Probability of survival</text>
<path d="M303.5 293.8 L305.5 293.8 L305.5 294.3 L308 294.3 L308 294.8 L309.6 294.8 L309.6 295.4 L311.2 295.4 L311.2 296 L312.8 296 L312.8 297.3 L315.2 297.3 L315.2 299.7 L317.7 299.7 L317.7 302.9 L320 302.9 L320 305.7 L322.5 305.7 L322.5 308.5 L324.9 308.5 L324.9 311.3 L326.5 311.3 L326.5 314.5 L328.1 320.2 L329.7 320.2 L329.7 324.2 L331.3 324.2 L331.3 328.2 L332.7 328.2 L332.7 329.4 L334.9 329.4 L334.9 329.8 L336.9 329.8 L336.9 331.8 L338.9 331.8 L338.9 333.4 L341.3 333.4 L341.3 335 L343.7 335 L343.7 337.9 L346.2 337.9 L346.2 339.5 L348.6 339.5 L348.6 341.1 L350.35 341.1 L350.35 342.5 L352.1 342.5 L352.1 343.9 L353.8 343.9 L353.8 344.9 L355.5 344.9 L355.5 345.9 L357.2 345.9 L357.2 346.9 L358.9 346.9 L358.9 347.9 L360.57 347.9 L360.57 348.57 L362.25 348.57 L362.25 349.25 L363.93 349.25 L363.93 349.93 L365.6 349.93 L365.6 350.6 L367.62 350.6 L367.62 351.6 L369.65 351.6 L369.65 352.6 L371.68 352.6 L371.68 353.6 L373.7 353.6 L373.7 354.6 L375.6 354.6 L375.6 355.2 L376.4 355.2 L376.4 357.9 L378.09 357.9 L378.09 358 L379.77 358 L379.77 358.1 L381.46 358.1 L381.46 358.2 L383.15 358.2 L383.15 358.3 L384.84 358.3 L384.84 358.4 L386.52 358.4 L386.52 358.5 L388.21 358.5 L388.21 358.6 L389.9 358.6 L389.9 358.7 L391.57 358.7 L391.57 358.9 L393.25 358.9 L393.25 359.1 L394.93 359.1 L394.93 359.3 L396.6 359.3 L396.6 359.5 L398.4 359.5 L398.4 360.57 L400.2 360.57 L400.2 361.63 L402 361.63 L402 362.7 L403.62 362.7 L403.62 363.24 L405.24 363.24 L405.24 363.78 L406.86 363.78 L406.86 364.32 L408.48 364.32 L408.48 364.86 L410.1 364.86 L410.1 365.4 L412.12 365.4 L412.12 366.07 L414.15 366.07 L414.15 366.75 L416.18 366.75 L416.18 367.43 L418.2 367.43 L418.2 368.1 L420 368.1 L420 369 L421.8 369 L421.8 369.9 L423.6 369.9 L423.6 370.8 L425.6 370.8 L425.6 372.15 L427.6 372.15 L427.6 373.5 L429.28 373.5 L429.28 374.18 L430.95 374.18 L430.95 374.85 L432.62 374.85 L432.62 375.52 L434.3 375.52 L434.3 376.2 L436.16 376.2 L436.16 376.2 L438.02 376.2 L438.02 376.2 L439.89 376.2 L439.89 376.2 L441.75 376.2 L441.75 376.2 L443.61 376.2 L443.61 376.2 L445.48 376.2 L445.48 376.2 L447.34 376.2 L447.34 376.2 L449.2 376.2 L449.2 376.2 L451.2 376.2 L451.2 377.55 L453.2 377.55 L453.2 378.9 L455.9 378.9 L455.9 382.1 L457.74 382.1 L457.74 382.1 L459.58 382.1 L459.58 382.1 L461.42 382.1 L461.42 382.1 L463.25 382.1 L463.25 382.1 L465.09 382.1 L465.09 382.1 L466.93 382.1 L466.93 382.1 L468.77 382.1 L468.77 382.1 L470.61 382.1 L470.61 382.1 L472.45 382.1 L472.45 382.1 L474.28 382.1 L474.28 382.1 L476.12 382.1 L476.12 382.1 L477.96 382.1 L477.96 382.1 L479.8 382.1 L479.8 382.1 L480.2 402" fill="none" stroke="#a3002c" stroke-width="1.55" stroke-linejoin="miter" />
<line x1="309.2" y1="292.7" x2="309.2" y2="296.9" stroke="#a3002c" stroke-width="1.0"/>
<line x1="310.03" y1="293.3" x2="310.03" y2="297.5" stroke="#a3002c" stroke-width="1.0"/>
<line x1="314.06" y1="295.2" x2="314.06" y2="299.4" stroke="#a3002c" stroke-width="1.0"/>
<line x1="318.12" y1="300.8" x2="318.12" y2="305" stroke="#a3002c" stroke-width="1.0"/>
<line x1="348.47" y1="337.4" x2="348.47" y2="341.6" stroke="#a3002c" stroke-width="1.0"/>
<line x1="350.23" y1="339" x2="350.23" y2="343.2" stroke="#a3002c" stroke-width="1.0"/>
<line x1="353.52" y1="341.8" x2="353.52" y2="346" stroke="#a3002c" stroke-width="1.0"/>
<line x1="354.07" y1="342.8" x2="354.07" y2="347" stroke="#a3002c" stroke-width="1.0"/>
<line x1="360.17" y1="345.8" x2="360.17" y2="350" stroke="#a3002c" stroke-width="1.0"/>
<line x1="361.48" y1="346.47" x2="361.48" y2="350.68" stroke="#a3002c" stroke-width="1.0"/>
<line x1="363.18" y1="347.15" x2="363.18" y2="351.35" stroke="#a3002c" stroke-width="1.0"/>
<line x1="363.99" y1="347.82" x2="363.99" y2="352.03" stroke="#a3002c" stroke-width="1.0"/>
<line x1="369.72" y1="350.5" x2="369.72" y2="354.7" stroke="#a3002c" stroke-width="1.0"/>
<line x1="372.98" y1="351.5" x2="372.98" y2="355.7" stroke="#a3002c" stroke-width="1.0"/>
<line x1="374.87" y1="352.5" x2="374.87" y2="356.7" stroke="#a3002c" stroke-width="1.0"/>
<line x1="378.92" y1="355.9" x2="378.92" y2="360.1" stroke="#a3002c" stroke-width="1.0"/>
<line x1="381.02" y1="356" x2="381.02" y2="360.2" stroke="#a3002c" stroke-width="1.0"/>
<line x1="382.48" y1="356.1" x2="382.48" y2="360.3" stroke="#a3002c" stroke-width="1.0"/>
<line x1="384.8" y1="356.2" x2="384.8" y2="360.4" stroke="#a3002c" stroke-width="1.0"/>
<line x1="386.13" y1="356.3" x2="386.13" y2="360.5" stroke="#a3002c" stroke-width="1.0"/>
<line x1="397.81" y1="357.4" x2="397.81" y2="361.6" stroke="#a3002c" stroke-width="1.0"/>
<line x1="400.7" y1="359.53" x2="400.7" y2="363.73" stroke="#a3002c" stroke-width="1.0"/>
<line x1="403.89" y1="361.14" x2="403.89" y2="365.34" stroke="#a3002c" stroke-width="1.0"/>
<line x1="413.09" y1="363.97" x2="413.09" y2="368.18" stroke="#a3002c" stroke-width="1.0"/>
<line x1="430.9" y1="372.07" x2="430.9" y2="376.28" stroke="#a3002c" stroke-width="1.0"/>
<line x1="432.02" y1="372.75" x2="432.02" y2="376.95" stroke="#a3002c" stroke-width="1.0"/>
<line x1="432.9" y1="373.42" x2="432.9" y2="377.62" stroke="#a3002c" stroke-width="1.0"/>
<line x1="443.99" y1="374.1" x2="443.99" y2="378.3" stroke="#a3002c" stroke-width="1.0"/>
<line x1="453.91" y1="376.8" x2="453.91" y2="381" stroke="#a3002c" stroke-width="1.0"/>
<line x1="457.6" y1="380" x2="457.6" y2="384.2" stroke="#a3002c" stroke-width="1.0"/>
<line x1="458.24" y1="380" x2="458.24" y2="384.2" stroke="#a3002c" stroke-width="1.0"/>
<line x1="460.06" y1="380" x2="460.06" y2="384.2" stroke="#a3002c" stroke-width="1.0"/>
<line x1="466.05" y1="380" x2="466.05" y2="384.2" stroke="#a3002c" stroke-width="1.0"/>
<line x1="475.85" y1="380" x2="475.85" y2="384.2" stroke="#a3002c" stroke-width="1.0"/>
<line x1="476.6" y1="380" x2="476.6" y2="384.2" stroke="#a3002c" stroke-width="1.0"/>
<line x1="478.76" y1="380" x2="478.76" y2="384.2" stroke="#a3002c" stroke-width="1.0"/>
<path d="M480.2 402 L504.1 402" fill="none" stroke="#a3002c" stroke-width="1.4" stroke-linejoin="miter" />
<line x1="483.5" y1="400.3" x2="483.5" y2="404.7" stroke="#a3002c" stroke-width="1.2"/>
<line x1="485.5" y1="400.3" x2="485.5" y2="404.7" stroke="#a3002c" stroke-width="1.2"/>
<line x1="495.5" y1="400.3" x2="495.5" y2="404.7" stroke="#a3002c" stroke-width="1.2"/>
<line x1="504.5" y1="400.3" x2="504.5" y2="404.7" stroke="#a3002c" stroke-width="1.2"/>
<path d="M303.5 293.5 L314.5 293.5 L314.5 296.5 L316.5 296.5 L316.5 300.5 L318.5 300.5 L318.5 303.5 L320.5 303.5 L320.5 306.5 L320.5 306.5 L320.5 309.5 L321.5 309.5 L321.5 312.5 L322.5 312.5 L322.5 315.5 L322.5 315.5 L322.5 319.5 L323.5 319.5 L323.5 322.5 L324.5 322.5 L324.5 325.5 L325.5 325.5 L325.5 329.5 L326.5 329.5 L326.5 337.5 L330.5 337.5 L330.5 343.5 L331.5 343.5 L331.5 348.5 L334.5 348.5 L334.5 354.5 L335.5 354.5 L335.5 363.5 L342.5 363.5 L342.5 368.5 L345.5 368.5 L345.5 373.5 L346.5 373.5 L346.5 377.5 L359.5 377.5 L359.5 383.5 L360.5 383.5 L360.5 388.5 L361.5 388.5 L361.5 397.5 L374.5 397.5 L374.5 403.5 L375.5 403.5 L375.5 408.5 L418.5 408.5 L418.5 415.5 L423.5 415.5 L423.5 421.5 L434.5 421.5 L434.5 430.5 L467.5 430.5" fill="none" stroke="#62a83a" stroke-width="1.35" stroke-linejoin="miter" />
<line x1="359.5" y1="381.3" x2="359.5" y2="385.7" stroke="#62a83a" stroke-width="1.2"/>
<line x1="374.5" y1="401.3" x2="374.5" y2="405.7" stroke="#62a83a" stroke-width="1.2"/>
<line x1="410.5" y1="406.3" x2="410.5" y2="410.7" stroke="#62a83a" stroke-width="1.2"/>
<line x1="414.5" y1="406.3" x2="414.5" y2="410.7" stroke="#62a83a" stroke-width="1.2"/>
<line x1="425.5" y1="419.3" x2="425.5" y2="423.7" stroke="#62a83a" stroke-width="1.2"/>
<line x1="429.5" y1="419.3" x2="429.5" y2="423.7" stroke="#62a83a" stroke-width="1.2"/>
<line x1="438.5" y1="428.3" x2="438.5" y2="432.7" stroke="#62a83a" stroke-width="1.2"/>
<line x1="445.5" y1="428.3" x2="445.5" y2="432.7" stroke="#62a83a" stroke-width="1.2"/>
<line x1="456.5" y1="428.3" x2="456.5" y2="432.7" stroke="#62a83a" stroke-width="1.2"/>
<line x1="467.5" y1="428.3" x2="467.5" y2="432.7" stroke="#62a83a" stroke-width="1.2"/>
<path d="M303.5 293.5 L311.5 293.5 L311.5 300.5 L313.5 300.5 L313.5 309.5 L319.5 309.5 L319.5 325.5 L320.5 325.5 L320.5 333.5 L325.5 333.5 L325.5 341.5 L329.5 341.5 L329.5 349.5 L330.5 349.5 L330.5 357.5 L331.5 357.5 L331.5 365.5 L333.5 365.5 L333.5 373.5 L344.5 373.5 L344.5 381.5 L347.5 381.5 L347.5 389.5 L360.5 389.5 L360.5 398.5 L382.5 398.5 L382.5 407.5 L387.5 407.5 L387.5 416.5 L438.5 416.5 L438.5 428.5 L450.5 428.5 L450.5 440.5 L479.5 440.5" fill="none" stroke="#1f4a87" stroke-width="1.35" stroke-linejoin="miter" />
<line x1="360.5" y1="387.3" x2="360.5" y2="391.7" stroke="#1f4a87" stroke-width="1.2"/>
<line x1="404.5" y1="414.3" x2="404.5" y2="418.7" stroke="#1f4a87" stroke-width="1.2"/>
<line x1="410.5" y1="414.3" x2="410.5" y2="418.7" stroke="#1f4a87" stroke-width="1.2"/>
<line x1="469.5" y1="438.3" x2="469.5" y2="442.7" stroke="#1f4a87" stroke-width="1.2"/>
<line x1="478.5" y1="438.3" x2="478.5" y2="442.7" stroke="#1f4a87" stroke-width="1.2"/>
<text font-size="8.3" fill="#1a1a1a" transform="translate(457.55 299.8) scale(0.956 1)">Marker count</text>
<text font-size="8.3" fill="#1a1a1a" transform="translate(452.91 309.6) scale(0.960 1)">(current study)</text>
<text font-size="8.4" fill="#a3002c" stroke="#a3002c" stroke-width="0.1" transform="translate(323.59 444.6) scale(0.952 1)">Count 0</text>
<text font-size="8.4" fill="#62a83a" stroke="#62a83a" stroke-width="0.1" transform="translate(323.61 456.9) scale(0.924 1)">Count 1</text>
<text font-size="8.4" fill="#1f4a87" stroke="#1f4a87" stroke-width="0.1" transform="translate(323.58 469.2) scale(0.974 1)">Count 2/3</text>
<text font-size="8.4" fill="#1a1a1a" transform="translate(477.09 472.5) scale(0.887 1)">P&lt;0.001</text>
<rect x="0" y="1" width="520" height="1" fill="#a0a0a0"/>
<rect x="1" y="0" width="1" height="522" fill="#888"/>
<rect x="518" y="0" width="1" height="522" fill="#aaa"/>
<rect x="0" y="520" width="520" height="1" fill="#909090"/>
<rect x="0" y="521" width="520" height="1" fill="#383838"/>
<rect x="0" y="0" width="520" height="1" fill="#0e0e0e"/>
<rect x="0" y="0" width="1" height="521" fill="#000"/>
<rect x="519" y="0" width="1" height="521" fill="#000"/>
</svg></body></html>
